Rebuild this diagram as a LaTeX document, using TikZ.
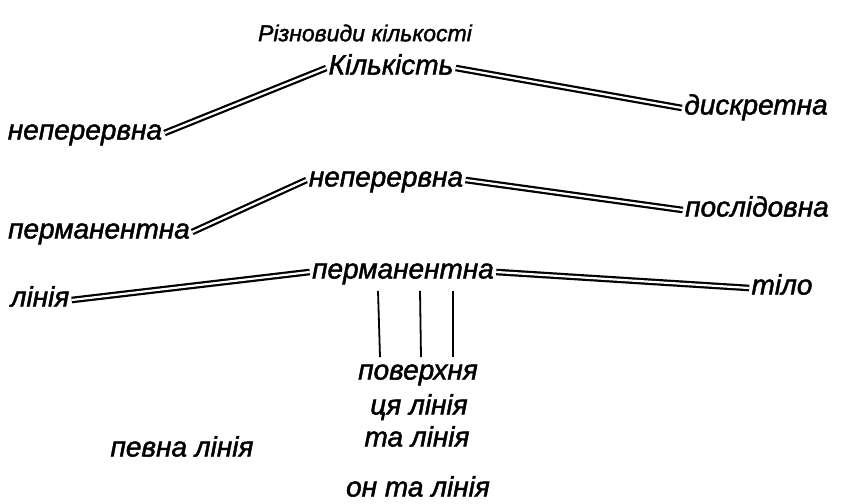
\documentclass[tikz,border=0pt]{standalone}
\usepackage{fontspec}
\setmainfont{Liberation Sans}
\newfontfamily\draftfont{Liberation Sans}[FakeBold=1.6]
\tikzset{
  word/.style={font=\draftfont\itshape\fontsize{14}{16}\selectfont, inner sep=1pt, text height=9.5pt, text depth=3pt},
  heading/.style={font=\draftfont\itshape\fontsize{11.5}{14}\selectfont},
  dbl/.style={double, double distance=1.1pt, line width=1.1pt},
  stem/.style={line width=0.9pt}
}

\begin{document}
\begin{tikzpicture}[x=0.5pt,y=-0.5pt]
  \useasboundingbox (0,0) rectangle (854,503);

  \node[heading] (title) at (365,33) {Різновиди кількості};

  % first level
  \node[word] (kilk)  at (391,68)  {Кількість};
  \node[word] (nep1)  at (85,133)  {неперервна};
  \node[word] (dysk)  at (756,108) {дискретна};
  \draw[dbl] (kilk.west) -- (nep1.east); % K-N
  \draw[dbl] (kilk.east) -- (dysk.west); % K-D

  % second level
  \node[word] (nep2)  at (386,180) {неперервна};
  \node[word] (perm1) at (99,232)  {перманентна};
  \node[word] (posl)  at (757,210) {послідовна};
  \draw[dbl] (nep2.west) -- (perm1.east);
  \draw[dbl] (nep2.east) -- (posl.west);

  % third level
  \node[word] (perm2) at (403,272) {перманентна};
  \node[word] (linia) at (40,300)  {лінія};
  \node[word] (tilo)  at (782,288) {тіло};
  \draw[dbl] (perm2.west) -- (linia.east);
  \draw[dbl] (perm2.east) -- (tilo.west);

  \node[word] (pov)   at (418,373) {поверхня};
  \node[word] (tsia)  at (419,408) {ця лінія};
  \node[word] (ta)    at (417,440) {та лінія};
  \node[word] (on)    at (418,490) {он та лінія};
  \node[word] (pevna) at (182,450) {певна лінія};

  \draw[stem] ([shift={(-25,4)}]perm2.south) -- ([shift={(-38,-1)}]pov.north);
  \draw[stem] ([shift={(17,4)}]perm2.south)  -- ([shift={(3,-1)}]pov.north);
  \draw[stem] ([shift={(50,4)}]perm2.south)  -- ([shift={(35,-1)}]pov.north);

\end{tikzpicture}
\end{document}
